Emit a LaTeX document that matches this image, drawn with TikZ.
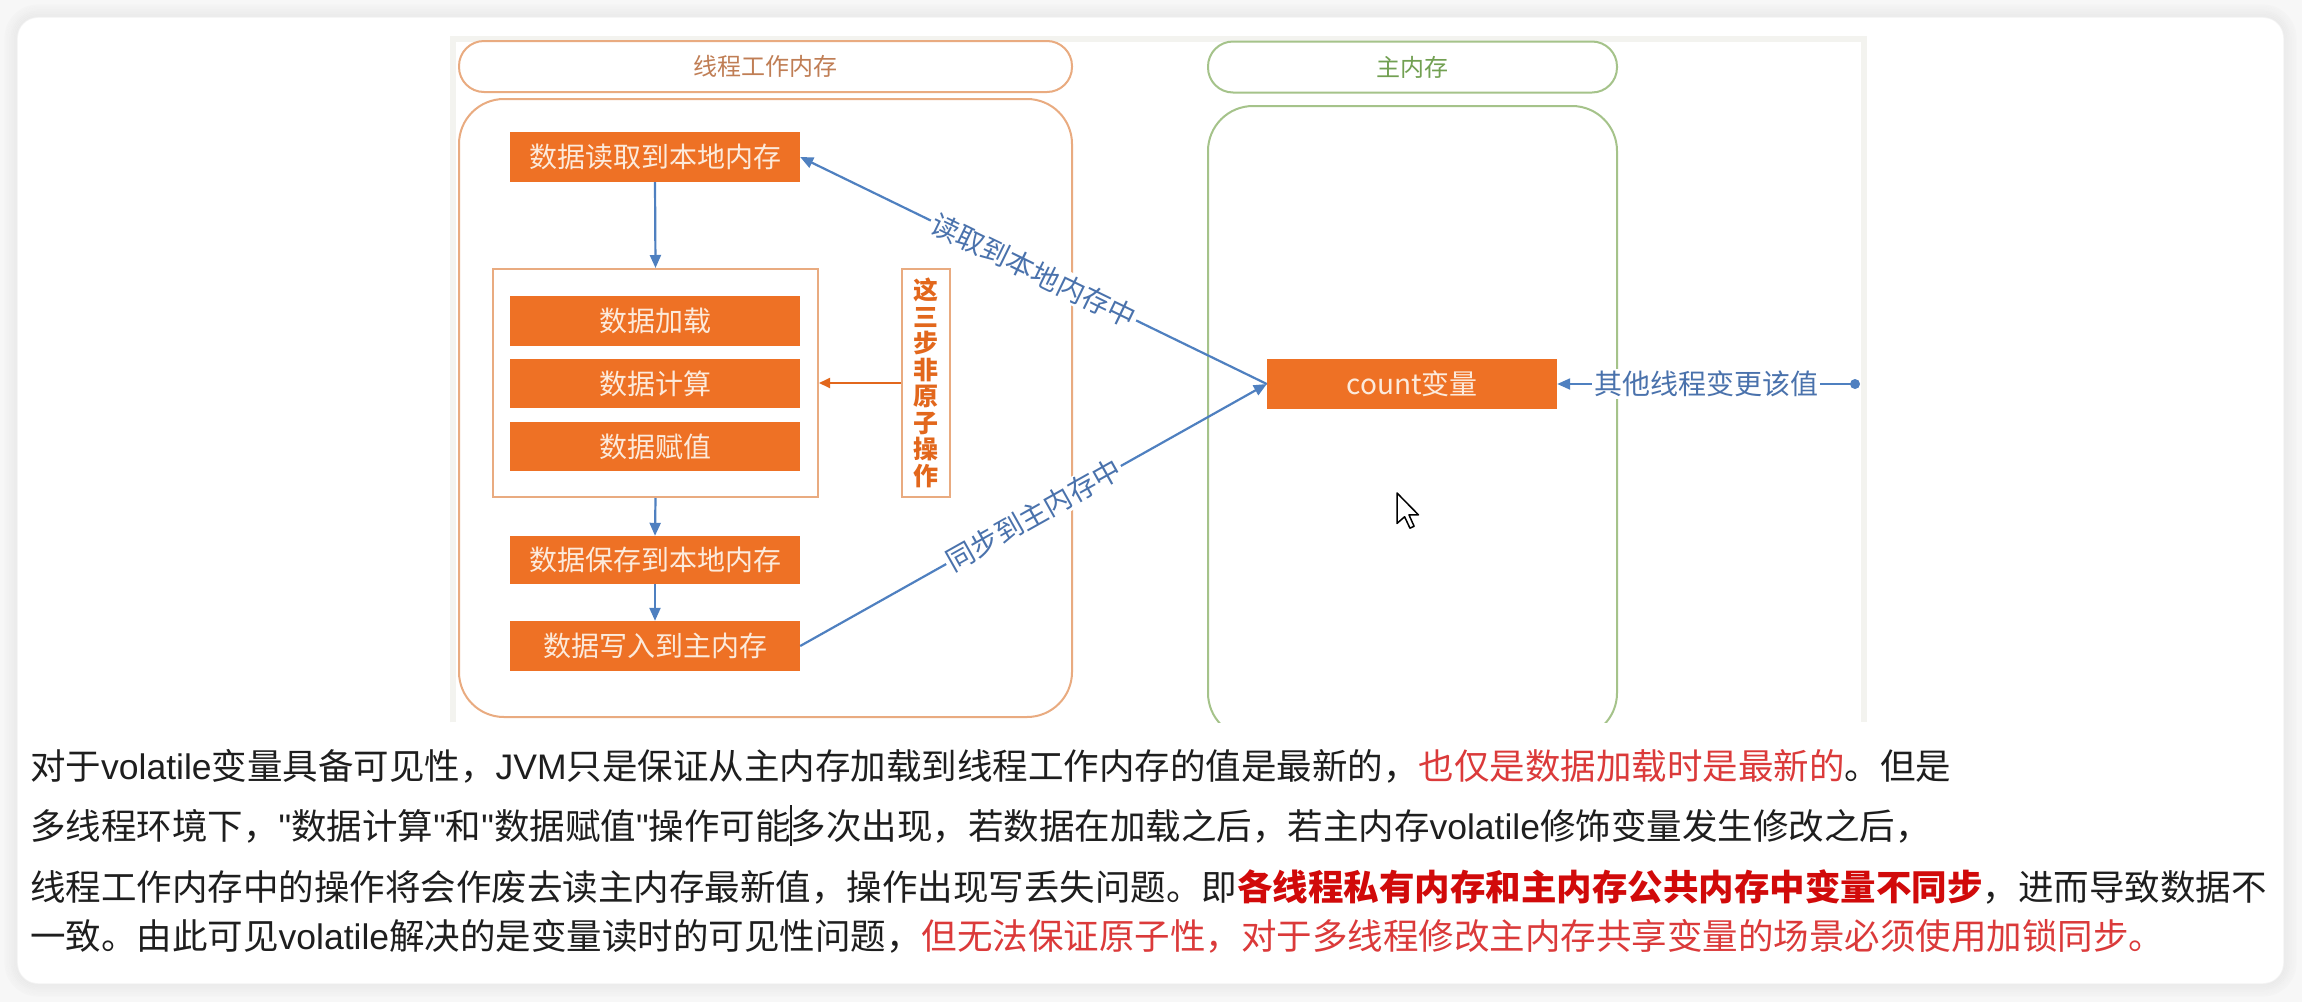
\documentclass[tikz,border=0pt]{standalone}
\usepackage{fontspec}
\setmainfont{Noto Sans CJK SC}
\newfontfamily\lat{Liberation Sans}
\usetikzlibrary{arrows.meta}
\definecolor{obox}{HTML}{EE7125}
\definecolor{otext}{HTML}{FCEADB}
\definecolor{oline}{HTML}{E9AB80}
\definecolor{ohead}{HTML}{C07E55}
\definecolor{gline}{HTML}{A5C38A}
\definecolor{ghead}{HTML}{72A052}
\definecolor{bline}{HTML}{4F80C0}
\definecolor{btext}{HTML}{4A72AC}
\definecolor{vtext}{HTML}{E2671C}
\definecolor{redA}{HTML}{DB3A3A}
\definecolor{redB}{HTML}{D10A0A}
\definecolor{bodytext}{HTML}{1E1E1E}
\definecolor{frame}{HTML}{F3F3EF}
\tikzset{
  obox/.style={inner sep=0pt, fill=obox, draw=none, text=otext, minimum width=290pt, minimum height=50pt, font=\fontsize{28}{28}\selectfont},
  frm/.style={inner sep=0pt, draw=oline, line width=2pt},
  pill/.style={frm, rounded corners=25pt, minimum height=51pt, font=\fontsize{24}{24}\selectfont},
  flow/.style={draw=bline, line width=2.2pt, -{Triangle[length=13pt,width=11pt]}},
  oflow/.style={draw=vtext, line width=1.8pt, -{Triangle[length=11pt,width=10pt]}},
  lbl/.style={fill=white, text=btext, inner sep=2pt, font=\fontsize{28}{28}\selectfont},
  body/.style={anchor=base west, inner sep=0pt, text=bodytext, font=\fontsize{35.5}{35.5}\selectfont}
}
\begin{document}
\begin{tikzpicture}[x=1pt,y=-1pt]
\useasboundingbox (0,0) rectangle (2302,1002);
\fill[white!97!black] (0,0) rectangle (2302,1002);
% card shadow
\foreach \i in {1,...,8}{
  \pgfmathsetmacro{\rr}{20+\i*1.6}
  \pgfmathsetmacro{\op}{0.05-\i*0.005}
  \draw[black, opacity=\op, line width=1.6pt, rounded corners=\rr pt]
    (18-\i*1.6, 18-\i*1.6) rectangle (2283+\i*1.6, 983+\i*1.6);
}
\fill[white, rounded corners=20pt] (18,18) rectangle (2283,983);
% diagram image frame
\draw[frame, line width=6pt] (453,722) -- (453,39) -- (1864,39) -- (1864,722);

% left column
\node[pill, minimum width=613pt, text=ohead] (lhead) at (765.5,66.5) {线程工作内存};
\node[frm, rounded corners=45pt, minimum width=613pt, minimum height=618pt] (lcont) at (765.5,408) {};
% right column
\node[pill, draw=gline, minimum width=409pt, text=ghead] (rhead) at (1412.5,67) {主内存};
\begin{scope}
  \clip (450,36) rectangle (1867,722);
  \node[frm, draw=gline, rounded corners=45pt, minimum width=409pt, minimum height=632pt] (rcont) at (1412.5,422) {};
\end{scope}

\node[obox] (read) at (655,157) {数据读取到本地内存};
\node[frm, minimum width=325pt, minimum height=228pt] (grp) at (655.5,383) {};
\node[obox] (load) at (655,321) {数据加载};
\node[obox, minimum height=49pt] (calc) at (655,383.5) {数据计算};
\node[obox, minimum height=49pt] (assign) at (655,446.5) {数据赋值};
\node[frm, minimum width=48pt, minimum height=228pt, align=center, text=vtext, font=\bfseries\fontsize{25}{26.5}\selectfont] (vbox) at (926,383) {这\\三\\步\\非\\原\\子\\操\\作};
\node[obox, minimum height=48pt] (save) at (655,560) {数据保存到本地内存};
\node[obox] (write) at (655,646) {数据写入到主内存};
\node[obox] (cnt) at (1412,384) {count变量};

\draw[flow] (read.south) -- (grp.north);
\draw[flow] (grp.south) -- (save.north);
\draw[flow] (save.south) -- (write.north);
\draw[oflow] (vbox.west) -- (grp.east);
\draw[flow] (cnt.west) -- node[lbl, sloped] {读取到本地内存中} (read.east);
\draw[flow] (write.east) -- node[lbl, sloped] {同步到主内存中} (cnt.west);
\coordinate (src) at (1855,384);
\fill[bline] (src) circle (5pt);
\draw[flow] (src) -- node[lbl] {其他线程变更该值} (cnt.east);

% mouse pointer
\begin{scope}[shift={(1397,493)}, scale=1.9]
  \draw[black, line width=1.5pt, fill=white, line join=round]
    (0,0) -- (0,16) -- (4,12.5) -- (6.8,18.5) -- (9,17.5) -- (6.3,11.5) -- (11.3,11.5) -- cycle;
\end{scope}

% body text
\node[body] (l1) at (30,779) {对于{\lat volatile}变量具备可见性，{\lat JVM}只是保证从主内存加载到线程工作内存的值是最新的，\textcolor{redA}{也仅是数据加载时是最新的}。但是};
\node[body] (l2) at (30,839) {多线程环境下，{\lat "}数据计算{\lat "}和{\lat "}数据赋值{\lat "}操作可能\rlap{\hspace{-0.5pt}\rule[-0.2em]{1.4pt}{1.15em}}多次出现，若数据在加载之后，若主内存{\lat volatile}修饰变量发生修改之后，};
\node[body] (l3) at (30,900) {线程工作内存中的操作将会作废去读主内存最新值，操作出现写丢失问题。即\textcolor{redB}{\bfseries 各线程私有内存和主内存公共内存中变量不同步}，进而导致数据不};
\node[body] (l4) at (30,949) {一致。由此可见{\lat volatile}解决的是变量读时的可见性问题，\textcolor{redA}{但无法保证原子性，对于多线程修改主内存共享变量的场景必须使用加锁同步。}};
\end{tikzpicture}
\end{document}
